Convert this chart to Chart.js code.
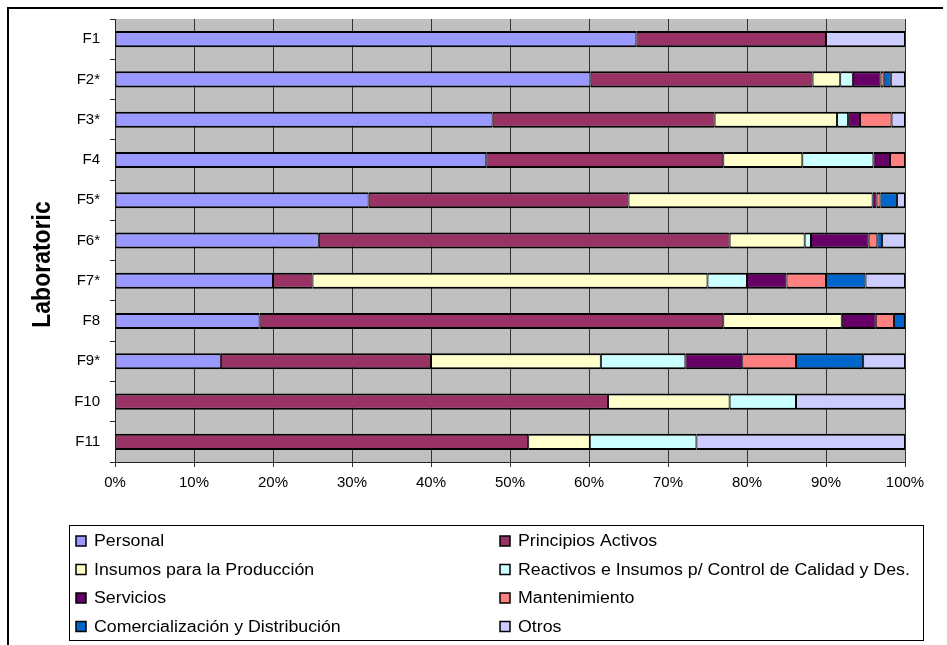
<!DOCTYPE html>
<html>
<head>
<meta charset="utf-8">
<script src="https://cdn.jsdelivr.net/npm/chart.js@4/dist/chart.umd.min.js"></script>
<style>
  html, body { margin: 0; padding: 0; background: #fff; }
  #wrap { width: 947px; height: 645px; }
</style>
</head>
<body>
<div id="wrap"><canvas id="c" width="947" height="645"></canvas></div>
<script>
// Laboratories (rows, top to bottom)
const categories = ['F1', 'F2*', 'F3*', 'F4', 'F5*', 'F6*', 'F7*', 'F8', 'F9*', 'F10', 'F11'];

// Cost share of each item per laboratory (% of total)
const personal         = [66.0, 60.2, 47.8, 47.0, 32.1, 25.8, 20.0, 18.3, 13.4, 0, 0];
const principios       = [24.0, 28.1, 28.1, 30.0, 32.9, 52.0, 5.0, 58.7, 26.6, 62.4, 52.3];
const insumos          = [0, 3.5, 15.5, 10.0, 30.9, 9.5, 50.0, 15.0, 21.5, 15.4, 7.8];
const reactivos        = [0, 1.6, 1.4, 9.0, 0, 0.8, 5.0, 0, 10.7, 8.4, 13.5];
const servicios        = [0, 3.5, 1.5, 2.1, 0.5, 7.3, 5.0, 4.3, 7.2, 0, 0];
const mantenimiento    = [0, 0.4, 4.0, 1.9, 0.5, 1.1, 5.0, 2.3, 6.8, 0, 0];
const comercializacion = [0, 0.9, 0, 0, 2.1, 0.6, 5.0, 1.4, 8.5, 0, 0];
const otros            = [10.0, 1.8, 1.7, 0, 1.0, 2.9, 5.0, 0, 5.3, 13.8, 26.4];

// Axis ticks
const xTicks = [0, 10, 20, 30, 40, 50, 60, 70, 80, 90, 100];
const axisTitle = 'Laboratoric';

const seriesNames = [
  'Personal',
  'Principios Activos',
  'Insumos para la Producción',
  'Reactivos e Insumos p/ Control de Calidad y Des.',
  'Servicios',
  'Mantenimiento',
  'Comercialización y Distribución',
  'Otros'
];
const seriesData = [personal, principios, insumos, reactivos, servicios, mantenimiento, comercializacion, otros];
const seriesColors = ['#9999FF', '#993366', '#FFFFCC', '#CCFFFF', '#660066', '#FF8080', '#0066CC', '#CCCCFF'];

const FONT = "'Liberation Sans', Arial, sans-serif";
Chart.defaults.font.family = FONT;
Chart.defaults.color = '#000';

const datasets = seriesNames.map((name, i) => ({
  label: name,
  data: seriesData[i],
  backgroundColor: seriesColors[i],
  borderColor: '#000',
  borderWidth: { top: 2, bottom: 2, left: 1, right: 1 },
  borderSkipped: false,
  barPercentage: 0.4,
  categoryPercentage: 1.0
}));

// Grey plot background, outer frame, rotated axis title and the boxed two-column legend
const decorations = {
  id: 'decorations',
  beforeDraw(chart) {
    const { ctx, chartArea: a } = chart;
    ctx.save();
    ctx.fillStyle = '#C0C0C0';
    ctx.fillRect(a.left, a.top, a.right - a.left, a.bottom - a.top);
    ctx.restore();
  },
  afterDraw(chart) {
    const { ctx, chartArea: a } = chart;
    ctx.save();
    // frame
    ctx.strokeStyle = '#000';
    ctx.lineWidth = 2;
    ctx.beginPath();
    ctx.moveTo(8, 645);
    ctx.lineTo(8, 8);
    ctx.lineTo(943, 8);
    ctx.stroke();

    // axis title
    ctx.save();
    ctx.translate(43, (a.top + a.bottom) / 2 + 24);
    ctx.rotate(-Math.PI / 2);
    ctx.scale(1, 1.1);
    ctx.font = "bold 23px " + FONT;
    ctx.textAlign = 'center';
    ctx.textBaseline = 'middle';
    ctx.fillStyle = '#000';
    ctx.fillText(axisTitle, 0, 0);
    ctx.restore();

    // legend box
    const bx = 69, by = 525, bw = 854, bh = 115;
    ctx.fillStyle = '#fff';
    ctx.fillRect(bx, by, bw, bh);
    ctx.strokeStyle = '#000';
    ctx.lineWidth = 1;
    ctx.strokeRect(bx + 0.5, by + 0.5, bw, bh);

    const colX = [76, 500];
    const rowY0 = 541, rowH = 28.5;
    chart.data.datasets.forEach((ds, i) => {
      const col = i % 2, row = Math.floor(i / 2);
      const sx = colX[col], cy = rowY0 + row * rowH;
      ctx.fillStyle = ds.backgroundColor;
      ctx.fillRect(sx, cy - 5, 10, 10);
      ctx.lineWidth = 1.5;
      ctx.strokeStyle = '#000';
      ctx.strokeRect(sx, cy - 5, 10, 10);
      ctx.save();
      ctx.translate(sx + 18, cy);
      ctx.scale(1.11, 1);
      ctx.font = "16px " + FONT;
      ctx.textAlign = 'left';
      ctx.textBaseline = 'middle';
      ctx.fillStyle = '#000';
      ctx.fillText(ds.label, 0, 1);
      ctx.restore();
    });
    ctx.restore();
  }
};

new Chart(document.getElementById('c'), {
  type: 'bar',
  data: { labels: categories, datasets },
  options: {
    indexAxis: 'y',
    responsive: false,
    animation: false,
    events: [],
    layout: { padding: { top: 18, right: 42, bottom: 153, left: 0 } },
    plugins: {
      legend: { display: false },
      tooltip: { enabled: false },
      title: { display: false }
    },
    scales: {
      x: {
        stacked: true,
        min: 0,
        max: 100,
        afterFit(scale) { scale.height = 30; },
        afterBuildTicks(scale) { scale.ticks = xTicks.map(v => ({ value: v })); },
        ticks: {
          font: { size: 15 },
          color: '#000',
          padding: 7,
          maxRotation: 0,
          callback: v => v + '%'
        },
        grid: { color: '#333', lineWidth: 1, tickLength: 5, drawOnChartArea: true },
        border: { color: '#222', width: 1 }
      },
      y: {
        stacked: true,
        afterFit(scale) { scale.width = 115; },
        ticks: { font: { size: 15 }, color: '#000', padding: 10 },
        grid: { drawOnChartArea: false, tickLength: 5, color: '#222', offset: true },
        border: { color: '#222', width: 1 }
      }
    }
  },
  plugins: [decorations]
});
</script>
</body>
</html>
